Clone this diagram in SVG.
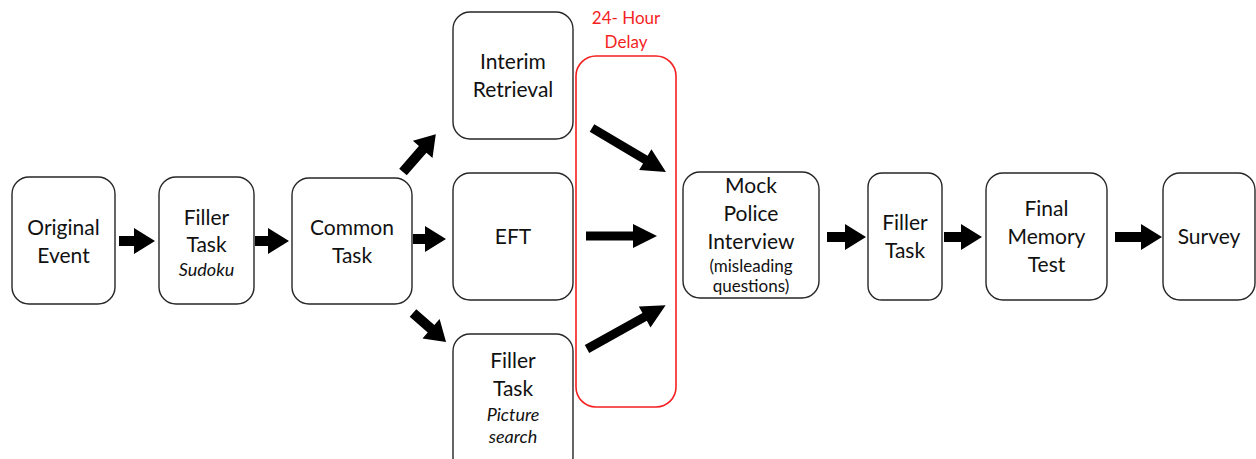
<svg xmlns="http://www.w3.org/2000/svg" width="1256" height="459" viewBox="0 0 1256 459">
<style>
.box{fill:#fff;stroke:#262626;stroke-width:1.4}
.red{fill:none;stroke:#f51f1f;stroke-width:1.6}
text{font-family:Lato,"Open Sans",sans-serif;font-size:21px;fill:#111;text-anchor:middle}
.it{font-style:italic;font-size:18px}
.sm{font-size:17px}
.rt{fill:#f51f1f;font-size:17px}
.arr{fill:#000}
</style>
<rect width="1256" height="459" fill="#fff"/>
<g id="n-original"><rect class="box" x="12" y="177" width="103" height="127" rx="17"/><text x="63.5" y="235">Original</text><text x="63.5" y="263">Event</text></g>
<g id="n-filler1"><rect class="box" x="159" y="177" width="95" height="127" rx="17"/><text x="206.5" y="225">Filler</text><text x="206.5" y="252">Task</text><text class="it" x="206.5" y="276">Sudoku</text></g>
<g id="n-common"><rect class="box" x="292" y="178" width="120" height="126" rx="17"/><text x="352" y="235">Common</text><text x="352" y="263">Task</text></g>
<g id="n-interim"><rect class="box" x="453" y="12" width="120" height="127" rx="17"/><text x="513" y="69">Interim</text><text x="513" y="97">Retrieval</text></g>
<g id="n-eft"><rect class="box" x="453" y="173" width="120" height="127" rx="17"/><text x="513" y="244">EFT</text></g>
<g id="n-filler2"><rect class="box" x="453" y="334" width="120" height="140" rx="17"/><text x="513" y="368">Filler</text><text x="513" y="396">Task</text><text class="it" x="513" y="421">Picture</text><text class="it" x="513" y="443">search</text></g>
<g id="n-delay"><rect class="red" x="576" y="56" width="100" height="351" rx="20"/><text class="rt" x="626" y="24">24- Hour</text><text class="rt" x="626" y="48">Delay</text></g>
<g id="n-mock"><rect class="box" x="683" y="172" width="136" height="126" rx="17"/><text x="751" y="193">Mock</text><text x="751" y="221">Police</text><text x="751" y="249">Interview</text><text class="sm" x="751" y="272">(misleading</text><text class="sm" x="751" y="292">questions)</text></g>
<g id="n-filler3"><rect class="box" x="868" y="173" width="74" height="127" rx="14"/><text x="905" y="230">Filler</text><text x="905" y="258">Task</text></g>
<g id="n-final"><rect class="box" x="986" y="173" width="121" height="127" rx="17"/><text x="1046.5" y="216">Final</text><text x="1046.5" y="244">Memory</text><text x="1046.5" y="272">Test</text></g>
<g id="n-survey"><rect class="box" x="1163" y="173" width="92" height="127" rx="17"/><text x="1209" y="244">Survey</text></g>
<g id="connectors" class="arr">
<polygon points="119,236 134,236 134,228 155,241 134,254 134,246 119,246"/>
<polygon points="255,236 268,236 268,228 289,241 268,254 268,246 255,246"/>
<polygon points="413,234 425,234 425,226 446,239 425,252 425,244 413,244"/>
<polygon points="827,232 845,232 845,224 866,237 845,250 845,242 827,242"/>
<polygon points="944,232 961,232 961,224 982,237 961,250 961,242 944,242"/>
<polygon points="1115,232 1141,232 1141,224 1162,237 1141,250 1141,242 1115,242"/>
<polygon points="586,231.5 633,231.5 633,224 657,236 633,248 633,240.5 586,240.5"/>
<polygon transform="translate(403,172) rotate(-49)" points="0,-5 30,-5 30,-13 50,0 30,13 30,5 0,5"/>
<polygon transform="translate(413,313) rotate(41.3)" points="0,-5 24,-5 24,-13 44,0 24,13 24,5 0,5"/>
<polygon transform="translate(592,128) rotate(30.7)" points="0,-4.5 62,-4.5 62,-12 86,0 62,12 62,4.5 0,4.5"/>
<polygon transform="translate(587,349) rotate(-29.1)" points="0,-4.5 66,-4.5 66,-12 90,0 66,12 66,4.5 0,4.5"/>
</g>
</svg>
